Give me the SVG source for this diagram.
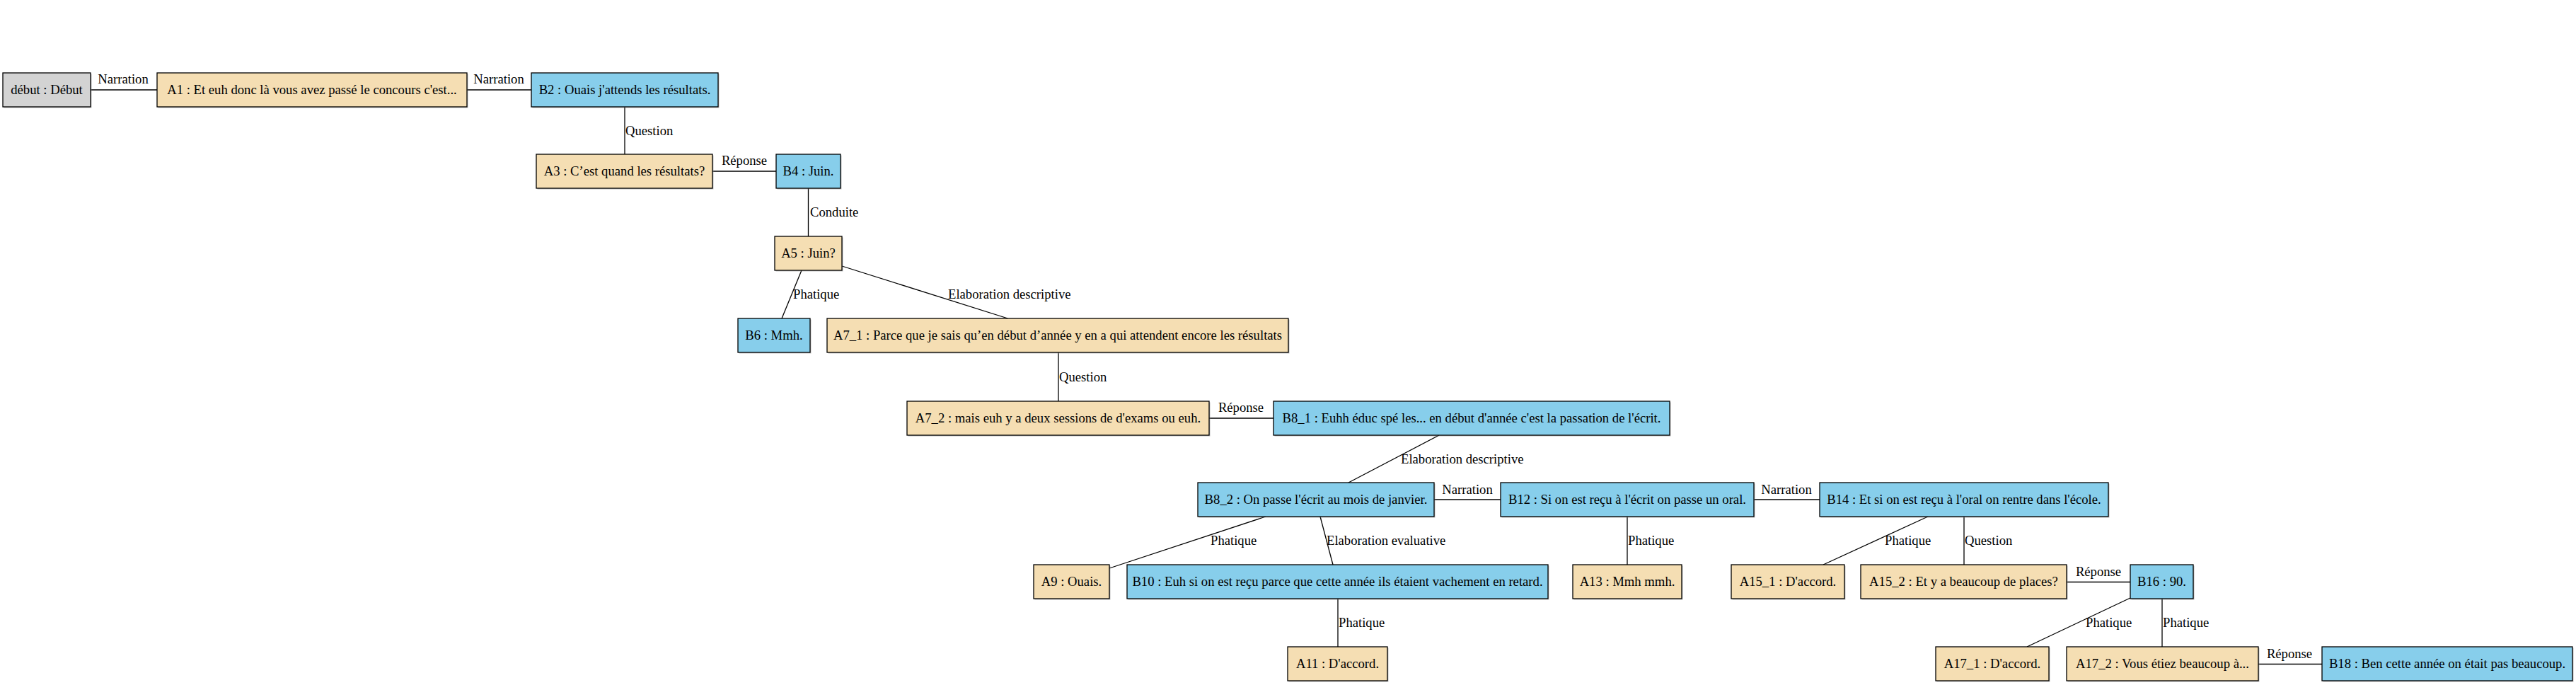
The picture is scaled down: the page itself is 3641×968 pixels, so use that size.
<svg xmlns="http://www.w3.org/2000/svg" width="3641" height="968" viewBox="0 0 3641 968">
<style>
text{font-family:"Liberation Serif","Times New Roman",serif;font-size:18.67px;fill:#000}
.n text{text-anchor:middle}
.box{stroke:#000;stroke-width:1.3}
.sh{fill:#8c8c8c;opacity:0.55}
.d{fill:#d3d3d3}
.a{fill:#f5deb3}
.b{fill:#87ceeb}
.e line{stroke:#000;stroke-width:1.3}
.lab{text-anchor:start}
.mid{text-anchor:middle}
</style>
<rect width="3641" height="968" fill="#fff"/>
<g id="edges" class="e">
<line x1="128" y1="127" x2="222" y2="127"/>
<line x1="660" y1="127" x2="751" y2="127"/>
<line x1="883" y1="151" x2="883" y2="218"/>
<line x1="1007" y1="242" x2="1097" y2="242"/>
<line x1="1142.5" y1="266" x2="1142.5" y2="334"/>
<line x1="1133" y1="382" x2="1105" y2="450"/>
<line x1="1190" y1="376" x2="1424.5" y2="450"/>
<line x1="1496" y1="498" x2="1496" y2="567"/>
<line x1="1709" y1="591" x2="1800" y2="591"/>
<line x1="2034" y1="615" x2="1906" y2="682"/>
<line x1="2027" y1="706" x2="2121" y2="706"/>
<line x1="1789" y1="730" x2="1568" y2="803"/>
<line x1="1866" y1="730" x2="1884" y2="798"/>
<line x1="1891" y1="846" x2="1891" y2="914"/>
<line x1="2479" y1="706" x2="2572" y2="706"/>
<line x1="2300" y1="730" x2="2300" y2="798"/>
<line x1="2725" y1="730" x2="2577" y2="798"/>
<line x1="2776" y1="730" x2="2776" y2="798"/>
<line x1="2921" y1="822.5" x2="3011" y2="822.5"/>
<line x1="3011" y1="845" x2="2865" y2="914"/>
<line x1="3056" y1="846" x2="3056" y2="914"/>
<line x1="3192" y1="938.5" x2="3282" y2="938.5"/>
<text class="mid" x="174" y="118">Narration</text>
<text class="mid" x="705" y="118">Narration</text>
<text class="lab" x="884" y="191">Question</text>
<text class="mid" x="1052" y="233">Réponse</text>
<text class="lab" x="1145" y="306">Conduite</text>
<text class="lab" x="1121" y="422">Phatique</text>
<text class="lab" x="1340" y="422">Elaboration descriptive</text>
<text class="lab" x="1497" y="539">Question</text>
<text class="mid" x="1754" y="582">Réponse</text>
<text class="lab" x="1980" y="655">Elaboration descriptive</text>
<text class="mid" x="2074" y="698">Narration</text>
<text class="lab" x="1711" y="770">Phatique</text>
<text class="lab" x="1875" y="770">Elaboration evaluative</text>
<text class="lab" x="1892" y="886">Phatique</text>
<text class="mid" x="2525" y="698">Narration</text>
<text class="lab" x="2301" y="770">Phatique</text>
<text class="lab" x="2664" y="770">Phatique</text>
<text class="lab" x="2777" y="770">Question</text>
<text class="mid" x="2966" y="814">Réponse</text>
<text class="lab" x="2948" y="886">Phatique</text>
<text class="lab" x="3057" y="886">Phatique</text>
<text class="mid" x="3236" y="930">Réponse</text>
</g>
<g class="n">
<g id="debut"><rect class="sh" x="5.5" y="104.5" width="124" height="48"/><rect class="box d" x="4" y="103" width="124" height="48"/><text x="66" y="133">début : Début</text></g>
<g id="A1"><rect class="sh" x="223.5" y="104.5" width="438" height="48"/><rect class="box a" x="222" y="103" width="438" height="48"/><text x="441" y="133">A1 : Et euh donc là vous avez passé le concours c'est...</text></g>
<g id="B2"><rect class="sh" x="752.5" y="104.5" width="264" height="48"/><rect class="box b" x="751" y="103" width="264" height="48"/><text x="883" y="133">B2 : Ouais j'attends les résultats.</text></g>
<g id="A3"><rect class="sh" x="759.5" y="219.5" width="249" height="48"/><rect class="box a" x="758" y="218" width="249" height="48"/><text x="882.5" y="248">A3 : C’est quand les résultats?</text></g>
<g id="B4"><rect class="sh" x="1098.5" y="219.5" width="91" height="48"/><rect class="box b" x="1097" y="218" width="91" height="48"/><text x="1142.5" y="248">B4 : Juin.</text></g>
<g id="A5"><rect class="sh" x="1096.5" y="335.5" width="95" height="48"/><rect class="box a" x="1095" y="334" width="95" height="48"/><text x="1142.5" y="364">A5 : Juin?</text></g>
<g id="B6"><rect class="sh" x="1044.5" y="451.5" width="102" height="48"/><rect class="box b" x="1043" y="450" width="102" height="48"/><text x="1094" y="480">B6 : Mmh.</text></g>
<g id="A7_1"><rect class="sh" x="1170.5" y="451.5" width="652" height="48"/><rect class="box a" x="1169" y="450" width="652" height="48"/><text x="1495" y="480">A7_1 : Parce que je sais qu’en début d’année y en a qui attendent encore les résultats</text></g>
<g id="A7_2"><rect class="sh" x="1283.5" y="568.5" width="427" height="48"/><rect class="box a" x="1282" y="567" width="427" height="48"/><text x="1495.5" y="597">A7_2 : mais euh y a deux sessions de d'exams ou euh.</text></g>
<g id="B8_1"><rect class="sh" x="1801.5" y="568.5" width="560" height="48"/><rect class="box b" x="1800" y="567" width="560" height="48"/><text x="2080" y="597">B8_1 : Euhh éduc spé les... en début d'année c'est la passation de l'écrit.</text></g>
<g id="B8_2"><rect class="sh" x="1694.5" y="683.5" width="334" height="48"/><rect class="box b" x="1693" y="682" width="334" height="48"/><text x="1860" y="712">B8_2 : On passe l'écrit au mois de janvier.</text></g>
<g id="B12"><rect class="sh" x="2122.5" y="683.5" width="358" height="48"/><rect class="box b" x="2121" y="682" width="358" height="48"/><text x="2300" y="712">B12 : Si on est reçu à l'écrit on passe un oral.</text></g>
<g id="B14"><rect class="sh" x="2573.5" y="683.5" width="408" height="48"/><rect class="box b" x="2572" y="682" width="408" height="48"/><text x="2776" y="712">B14 : Et si on est reçu à l'oral on rentre dans l'école.</text></g>
<g id="A9"><rect class="sh" x="1462.5" y="799.5" width="107" height="48"/><rect class="box a" x="1461" y="798" width="107" height="48"/><text x="1514.5" y="828">A9 : Ouais.</text></g>
<g id="B10"><rect class="sh" x="1594.5" y="799.5" width="595" height="48"/><rect class="box b" x="1593" y="798" width="595" height="48"/><text x="1890.5" y="828">B10 : Euh si on est reçu parce que cette année ils étaient vachement en retard.</text></g>
<g id="A13"><rect class="sh" x="2224.5" y="799.5" width="154" height="48"/><rect class="box a" x="2223" y="798" width="154" height="48"/><text x="2300" y="828">A13 : Mmh mmh.</text></g>
<g id="A15_1"><rect class="sh" x="2448.5" y="799.5" width="160" height="48"/><rect class="box a" x="2447" y="798" width="160" height="48"/><text x="2527" y="828">A15_1 : D'accord.</text></g>
<g id="A15_2"><rect class="sh" x="2631.5" y="799.5" width="291" height="48"/><rect class="box a" x="2630" y="798" width="291" height="48"/><text x="2775.5" y="828">A15_2 : Et y a beaucoup de places?</text></g>
<g id="B16"><rect class="sh" x="3012.5" y="799.5" width="89" height="48"/><rect class="box b" x="3011" y="798" width="89" height="48"/><text x="3055.5" y="828">B16 : 90.</text></g>
<g id="A11"><rect class="sh" x="1821.5" y="915.5" width="141" height="48"/><rect class="box a" x="1820" y="914" width="141" height="48"/><text x="1890.5" y="944">A11 : D'accord.</text></g>
<g id="A17_1"><rect class="sh" x="2737.5" y="915.5" width="160" height="48"/><rect class="box a" x="2736" y="914" width="160" height="48"/><text x="2816" y="944">A17_1 : D'accord.</text></g>
<g id="A17_2"><rect class="sh" x="2922.5" y="915.5" width="271" height="48"/><rect class="box a" x="2921" y="914" width="271" height="48"/><text x="3056.5" y="944">A17_2 : Vous étiez beaucoup à...</text></g>
<g id="B18"><rect class="sh" x="3283.5" y="915.5" width="354" height="48"/><rect class="box b" x="3282" y="914" width="354" height="48"/><text x="3459" y="944">B18 : Ben cette année on était pas beaucoup.</text></g>
</g>
</svg>
